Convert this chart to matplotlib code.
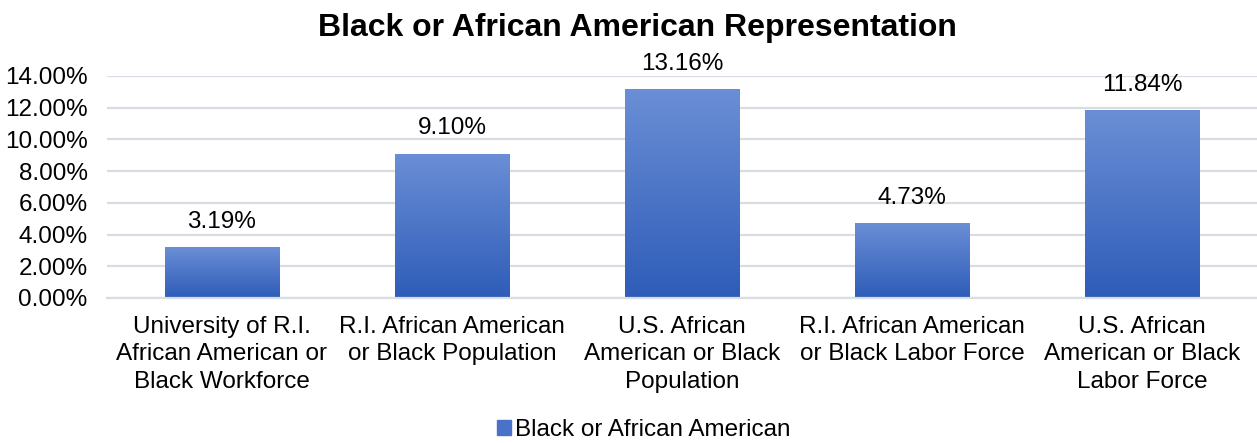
import matplotlib.pyplot as plt
import numpy as np
from matplotlib.colors import LinearSegmentedColormap
from matplotlib.ticker import FuncFormatter

plt.rcParams['font.family'] = ['Liberation Sans', 'DejaVu Sans']

categories = [
    "University of R.I.\nAfrican American or\nBlack Workforce",
    "R.I. African American\nor Black Population",
    "U.S. African\nAmerican or Black\nPopulation",
    "R.I. African American\nor Black Labor Force",
    "U.S. African\nAmerican or Black\nLabor Force",
]
values = [3.19, 9.10, 13.16, 4.73, 11.84]
series_name = "Black or African American"

fs = 17.5

fig = plt.figure(figsize=(12.57, 4.43), dpi=100)
ax = fig.add_axes([107 / 1257, 1 - 298 / 443, 1150 / 1257, 222 / 443])

x = np.arange(len(values))
width = 0.5
bars = ax.bar(x, values, width=width, color='#4a72c9', zorder=2,
              label=series_name)

# vertical gradient fill, lighter at the top
cmap = LinearSegmentedColormap.from_list('blues', ['#2e5cb8', '#6b8fd6'])
grad = np.linspace(0, 1, 256).reshape(-1, 1)
for b in bars:
    b.set_facecolor('none')
    x0, w, h = b.get_x(), b.get_width(), b.get_height()
    im = ax.imshow(grad, cmap=cmap, origin='lower', aspect='auto',
                   extent=[x0, x0 + w, 0, h], zorder=2)
    im.set_clip_path(b)

for xi, v in zip(x, values):
    ax.text(xi, v + 1.6, f"{v:.2f}%", ha='center', va='center', fontsize=fs,
            clip_on=False)

ax.set_xlim(-0.5, len(values) - 0.5)
ax.set_ylim(0, 14)
ax.set_yticks(np.arange(0, 14.1, 2))
ax.yaxis.set_major_formatter(FuncFormatter(lambda v, p: f"{v:.2f}%"))
ax.set_xticks(x)
ax.set_xticklabels(categories, fontsize=fs, linespacing=1.32)
ax.tick_params(axis='y', labelsize=fs, length=0, pad=14)
ax.tick_params(axis='x', length=0, pad=13)
ax.grid(axis='y', color='#d9dde3', linewidth=1.6, zorder=0)
ax.set_axisbelow(True)
for s in ['top', 'right', 'left']:
    ax.spines[s].set_visible(False)
ax.spines['bottom'].set_color('#d9dde3')
ax.spines['bottom'].set_linewidth(1.6)

fig.suptitle("Black or African American Representation", fontsize=23,
             fontweight='bold', x=0.507, y=0.97)

handle = plt.Rectangle((0, 0), 1, 1, color='#4a72c9')
fig.legend([handle], [series_name], loc='lower center',
           bbox_to_anchor=(0.512, -0.045), frameon=False, fontsize=fs,
           handlelength=0.6, handleheight=0.6, handletextpad=0.15)

fig.savefig('out.png', dpi=100)
